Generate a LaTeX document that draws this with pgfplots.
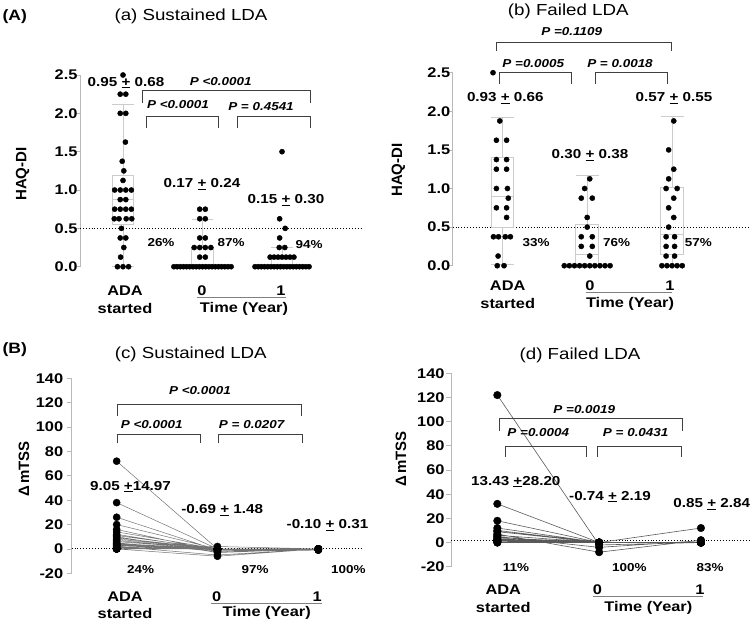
\documentclass[border=0pt]{standalone}
\usepackage{fontspec}
\setmainfont{Liberation Sans}[FakeStretch=1.17]
\newfontfamily\ylabfont{Liberation Sans}
\usepackage{pgfplots}
\pgfplotsset{compat=1.18}
\usepackage{pgfplotstable}
\usepgfplotslibrary{statistics}

\pgfplotsset{
 panel/.style={
  scale only axis, clip=false, anchor=south west,
  axis x line=none, axis y line*=left,
  xtick=\empty,
  tick align=outside, major tick length=5bp,
  axis line style={gray!55, line width=0.8bp},
  ytick style={gray!55, line width=0.8bp},
  yticklabel style={font=\fontsize{14bp}{16bp}\selectfont\bfseries},
  boxplot/draw direction=y,
 },
 bx/.style={draw=gray!40, line width=0.7bp, solid},
}
\tikzset{
 pv/.style={font=\fontsize{11.5bp}{13bp}\selectfont\bfseries\itshape},
 mv/.style={font=\fontsize{13bp}{15bp}\selectfont\bfseries},
 pc/.style={font=\fontsize{11.5bp}{13bp}\selectfont\bfseries},
 cat/.style={font=\fontsize{14bp}{16bp}\selectfont\bfseries},
 ttl/.style={font=\fontsize{16bp}{18bp}\selectfont},
 lab/.style={font=\fontsize{15bp}{17bp}\selectfont\bfseries},
 ylab/.style={font=\ylabfont\fontsize{15bp}{17bp}\selectfont\bfseries, rotate=90},
 brk/.style={line width=0.9bp, black!75},
}

% (a) Sustained LDA, HAQ-DI dot plot
\pgfplotstableread{
x y
0 2.5
-0.035 2.25
0.035 2.25
-0.035 2.0
0.035 2.0
0.03 1.625
-0.01 1.375
0.01 1.25
0 1.125
-0.105 1.0
-0.035 1.0
0.035 1.0
0.105 1.0
-0.035 0.875
0.035 0.875
-0.105 0.75
-0.035 0.75
0.035 0.75
0.105 0.75
-0.11 0.625
-0.05 0.625
0.04 0.625
0.11 0.625
-0.02 0.5
-0.035 0.375
0.035 0.375
0.01 0.25
-0.03 0.125
-0.07 0
0 0
0.07 0
0.965 0.75
1.035 0.75
0.965 0.625
1.035 0.625
0.965 0.375
1.035 0.375
0.895 0.25
0.965 0.25
1.035 0.25
1.105 0.25
0.965 0.125
1.035 0.125
0.64 0
0.68 0
0.72 0
0.76 0
0.80 0
0.84 0
0.88 0
0.92 0
0.96 0
1.00 0
1.04 0
1.08 0
1.12 0
1.16 0
1.20 0
1.24 0
1.28 0
1.32 0
1.36 0
2.0 1.5
1.97 0.625
2.04 0.5
1.97 0.375
1.965 0.25
2.035 0.25
1.85 0.125
1.90 0.125
1.95 0.125
2.00 0.125
2.05 0.125
2.10 0.125
2.15 0.125
1.66 0
1.70 0
1.74 0
1.78 0
1.82 0
1.86 0
1.90 0
1.94 0
1.98 0
2.02 0
2.06 0
2.10 0
2.14 0
2.18 0
2.22 0
2.26 0
2.30 0
2.34 0
}\dataA

% (b) Failed LDA, HAQ-DI dot plot
\pgfplotstableread{
x y
-0.11 2.5
-0.03 1.875
-0.07 1.625
0.05 1.625
-0.07 1.375
0.05 1.375
-0.07 1.25
0.05 1.25
-0.07 1.0
0.06 1.0
0.07 0.875
-0.07 0.75
0.05 0.75
0.05 0.625
-0.105 0.375
-0.045 0.375
0.035 0.375
0.095 0.375
-0.05 0.125
-0.06 0
0.02 0
1.03 1.125
0.97 1.0
0.93 0.875
1.06 0.875
1.0 0.625
1.0 0.5
0.93 0.375
1.06 0.375
0.93 0.25
1.06 0.25
1.03 0.125
0.73 0
0.79 0
0.85 0
0.91 0
0.97 0
1.03 0
1.09 0
1.15 0
1.21 0
1.27 0
2.02 1.875
1.96 1.5
2.02 1.25
1.96 1.125
1.93 1.0
2.06 1.0
2.02 0.875
1.96 0.75
2.02 0.625
1.96 0.5
1.93 0.375
2.03 0.375
1.93 0.25
2.03 0.25
1.93 0.125
2.03 0.125
1.88 0
1.94 0
2.00 0
2.06 0
2.12 0
}\dataB

% (c) Sustained LDA, delta mTSS per patient
\pgfplotstableread{
x y
0 72
1 0
2 0
0 nan
0 38
1 0
2 0
0 nan
0 26
1 -1
2 0
0 nan
0 20
1 0
2 0
0 nan
0 16
1 -2
2 -1
0 nan
0 14
1 0
2 0
0 nan
0 12
1 -1
2 0
0 nan
0 11
1 0
2 0
0 nan
0 10
1 -3
2 0
0 nan
0 9
1 0
2 0
0 nan
0 8
1 0
2 -0.5
0 nan
0 7
1 -0.5
2 0
0 nan
0 6
1 0
2 0
0 nan
0 5
1 -2
2 0
0 nan
0 4.5
1 0
2 0
0 nan
0 4
1 0
2 0
0 nan
0 3.5
1 -1
2 -1
0 nan
0 3
1 0
2 0
0 nan
0 2.5
1 0
2 0
0 nan
0 2
1 -5
2 0
0 nan
0 1.5
1 0
2 0
0 nan
0 1
1 0
2 -0.5
0 nan
0 0
1 -6
2 0
0 nan
0 0
1 2
2 0
0 nan
0 0
1 0
2 0
0 nan
0 0
1 0
2 0
0 nan
0 0
1 0
2 0
0 nan
0 0
1 0
2 0
0 nan
0 0
1 0
2 0
}\dataC

% (d) Failed LDA, delta mTSS per patient
\pgfplotstableread{
x y
0 122
1 -2
2 0
0 nan
0 32
1 0
2 0
0 nan
0 18
1 0
2 0
0 nan
0 12
1 0
2 0
0 nan
0 10
1 0
2 12
0 nan
0 9
1 0
2 0
0 nan
0 7
1 -8
2 2
0 nan
0 6
1 0
2 0
0 nan
0 5
1 -4
2 1.5
0 nan
0 4
1 0
2 0
0 nan
0 3
1 0
2 0
0 nan
0 2.5
1 0
2 0
0 nan
0 2
1 0
2 0
0 nan
0 1.5
1 0
2 0
0 nan
0 1
1 0
2 0
0 nan
0 1
1 0
2 0
0 nan
0 0
1 0
2 0
0 nan
0 0
1 0
2 0
}\dataD

\begin{document}
\begin{tikzpicture}[x=1bp,y=-1bp]
\useasboundingbox (0,0) rectangle (750,626);

% ---------------- (a)
\begin{axis}[panel, at={(80bp,-266.7bp)}, width=282bp, height=191.7bp,
  xmin=-0.541, xmax=3.006, ymin=0, ymax=2.5,
  yticklabel style={xshift=6bp},
  ytick={0,0.5,1,1.5,2,2.5}, yticklabels={0.0,0.5,1.0,1.5,2.0,2.5}]
\addplot[black, dotted, line width=0.9bp] coordinates {(-0.541,0.5) (3.006,0.5)};
\addplot[bx, boxplot prepared={draw position=0, lower whisker=0, lower quartile=0.55, median=0.88, upper quartile=1.19, upper whisker=2.12, box extend=0.27, whisker extend=0.27}] coordinates {};
\addplot[bx, boxplot prepared={draw position=1, lower whisker=0, lower quartile=0, median=0, upper quartile=0.25, upper whisker=0.62, box extend=0.27, whisker extend=0.27}] coordinates {};
\addplot[bx, boxplot prepared={draw position=2, lower whisker=0, lower quartile=0, median=0, upper quartile=0.125, upper whisker=0.25, box extend=0.27, whisker extend=0.27}] coordinates {};
\addplot[only marks, mark=*, mark size=2.6pt, black] table {\dataA};
\end{axis}
\node[lab] at (14.7,16.3) {(A)};
\node[ttl] at (191,16) {(a) Sustained LDA};
\node[ylab] at (22.5,174) {HAQ-DI};
\draw[brk] (142.7,103) -- (142.7,90) -- (310,90) -- (310,103);
\node[pv] at (220.7,81.7) {P <0.0001};
\draw[brk] (146.7,128.3) -- (146.7,116) -- (218.3,116) -- (218.3,128.3);
\node[pv] at (178,104.3) {P <0.0001};
\draw[brk] (237.3,128.3) -- (237.3,116) -- (310,116) -- (310,128.3);
\node[pv] at (261,107) {P = 0.4541};
\node[mv] at (126,82.7) {0.95 \underline{+} 0.68};
\node[mv] at (202,184.3) {0.17 \underline{+} 0.24};
\node[mv] at (286,200) {0.15 \underline{+} 0.30};
\node[pc] at (161,242.7) {26\%};
\node[pc] at (231,242.7) {87\%};
\node[pc] at (309,245) {94\%};
\node[cat] at (125,291) {ADA};
\node[cat] at (125,308.5) {started};
\node[cat] at (202,291) {0};
\node[cat] at (281,291) {1};
\draw[gray, line width=0.9bp] (197,297.5) -- (286,297.5);
\node[cat] at (244,308.5) {Time (Year)};

% ---------------- (b)
\begin{axis}[panel, at={(452.7bp,-265.7bp)}, width=297.4bp, height=193bp,
  xmin=-0.585, xmax=2.92, ymin=0, ymax=2.5,
  yticklabel style={xshift=6bp},
  ytick={0,0.5,1,1.5,2,2.5}, yticklabels={0.0,0.5,1.0,1.5,2.0,2.5}]
\addplot[black, dotted, line width=0.9bp] coordinates {(-0.585,0.5) (2.92,0.5)};
\addplot[bx, boxplot prepared={draw position=0, lower whisker=0.02, lower quartile=0.5, median=0.9, upper quartile=1.4, upper whisker=1.92, box extend=0.27, whisker extend=0.27}] coordinates {};
\addplot[bx, boxplot prepared={draw position=1, lower whisker=0, lower quartile=0, median=0.15, upper quartile=0.54, upper whisker=1.17, box extend=0.27, whisker extend=0.27}] coordinates {};
\addplot[bx, boxplot prepared={draw position=2, lower whisker=0, lower quartile=0.15, median=0.4, upper quartile=1.02, upper whisker=1.93, box extend=0.27, whisker extend=0.27}] coordinates {};
\addplot[only marks, mark=*, mark size=2.6pt, black] table {\dataB};
\end{axis}
\node[ttl] at (568.3,11) {(b) Failed LDA};
\node[ylab] at (398.3,170) {HAQ-DI};
\node[pv] at (571.7,31.7) {P =0.1109};
\draw[brk] (496.7,50.7) -- (496.7,42.7) -- (671,42.7) -- (671,50.7);
\node[pv] at (533.3,63.3) {P =0.0005};
\draw[brk] (499,84) -- (499,72.7) -- (571,72.7) -- (571,84);
\node[pv] at (620,63.3) {P = 0.0018};
\draw[brk] (595,84) -- (595,72.7) -- (667.3,72.7) -- (667.3,84);
\node[mv] at (505.3,98.3) {0.93 \underline{+} 0.66};
\node[mv] at (590,155) {0.30 \underline{+} 0.38};
\node[mv] at (674,98.3) {0.57 \underline{+} 0.55};
\node[pc] at (536,242.3) {33\%};
\node[pc] at (616.7,242.3) {76\%};
\node[pc] at (698.3,242.3) {57\%};
\node[cat] at (507.7,286) {ADA};
\node[cat] at (507.7,303.5) {started};
\node[cat] at (590,286) {0};
\node[cat] at (670,286) {1};
\draw[gray, line width=0.9bp] (585.7,292.3) -- (671.7,292.3);
\node[cat] at (630,303.5) {Time (Year)};

% ---------------- (c)
\begin{axis}[panel, at={(71.7bp,-573.3bp)}, width=289.9bp, height=195bp,
  xmin=-0.446, xmax=2.43, ymin=-20, ymax=140,
  ytick={-20,0,20,40,60,80,100,120,140}, yticklabels={-20,0,20,40,60,80,100,120,140}]
\addplot[black, dotted, line width=0.9bp] coordinates {(-0.446,0) (2.43,0)};
\addplot[black!55, line width=0.5bp, unbounded coords=jump, mark=none] table {\dataC};
\addplot[only marks, mark=*, mark size=3.6pt, black] table {\dataC};
\end{axis}
\node[lab] at (14.7,350) {(B)};
\node[ttl] at (190.8,354.2) {(c) Sustained LDA};
\node[ylab] at (24,469) {Δ\,mTSS};
\node[pv] at (200,391) {P <0.0001};
\draw[brk] (117.3,416) -- (117.3,404.3) -- (301,404.3) -- (301,416);
\node[pv] at (151.7,425) {P <0.0001};
\draw[brk] (117.3,443.3) -- (117.3,434.3) -- (200,434.3) -- (200,443.3);
\node[pv] at (251.7,425) {P = 0.0207};
\draw[brk] (218.3,443.3) -- (218.3,434.3) -- (302.7,434.3) -- (302.7,443.3);
\node[mv] at (130.5,486.7) {9.05 \underline{+}14.97};
\node[mv] at (222.2,510) {-0.69 \underline{+} 1.48};
\node[mv] at (327.5,525) {-0.10 \underline{+} 0.31};
\node[pc] at (140.7,569.3) {24\%};
\node[pc] at (255,569.3) {97\%};
\node[pc] at (348.3,569.3) {100\%};
\node[cat] at (125,596.7) {ADA};
\node[cat] at (125,613.3) {started};
\node[cat] at (216.7,596.7) {0};
\node[cat] at (317.3,596.7) {1};
\draw[gray, line width=0.9bp] (210.7,603.3) -- (321.7,603.3);
\node[cat] at (266.7,613.3) {Time (Year)};

% ---------------- (d)
\begin{axis}[panel, at={(451bp,-566.7bp)}, width=298.8bp, height=193.4bp,
  xmin=-0.455, xmax=2.48, ymin=-20, ymax=140,
  yticklabel style={xshift=2bp},
  ytick={-20,0,20,40,60,80,100,120,140}, yticklabels={-20,0,20,40,60,80,100,120,140}]
\addplot[black, dotted, line width=0.9bp] coordinates {(-0.455,1.5) (2.48,1.5)};
\addplot[black!65, line width=0.6bp, unbounded coords=jump, mark=none] table {\dataD};
\addplot[only marks, mark=*, mark size=3.8pt, black] table {\dataD};
\end{axis}
\node[ttl] at (580,355) {(d) Failed LDA};
\node[ylab] at (401,459) {Δ\,mTSS};
\node[pv] at (584.3,409.3) {P =0.0019};
\draw[brk] (499,430.7) -- (499,418.3) -- (682.3,418.3) -- (682.3,430.7);
\node[pv] at (538.3,432.7) {P =0.0004};
\draw[brk] (505,456.7) -- (505,446.7) -- (586.7,446.7) -- (586.7,456.7);
\node[pv] at (635.7,432.7) {P = 0.0431};
\draw[brk] (597.3,456.7) -- (597.3,446.7) -- (681,446.7) -- (681,456.7);
\node[mv] at (515.8,481.7) {13.43 \underline{+}28.20};
\node[mv] at (610,496.7) {-0.74 \underline{+} 2.19};
\node[mv] at (711.7,504.3) {0.85 \underline{+} 2.84};
\node[pc] at (516,567.3) {11\%};
\node[pc] at (629.3,567.3) {100\%};
\node[pc] at (710,567.3) {83\%};
\node[cat] at (503.3,590) {ADA};
\node[cat] at (503.3,607.5) {started};
\node[cat] at (597.3,590) {0};
\node[cat] at (700,590) {1};
\draw[gray, line width=0.9bp] (593.3,596) -- (703.3,596);
\node[cat] at (648.3,607.5) {Time (Year)};
\end{tikzpicture}
\end{document}
